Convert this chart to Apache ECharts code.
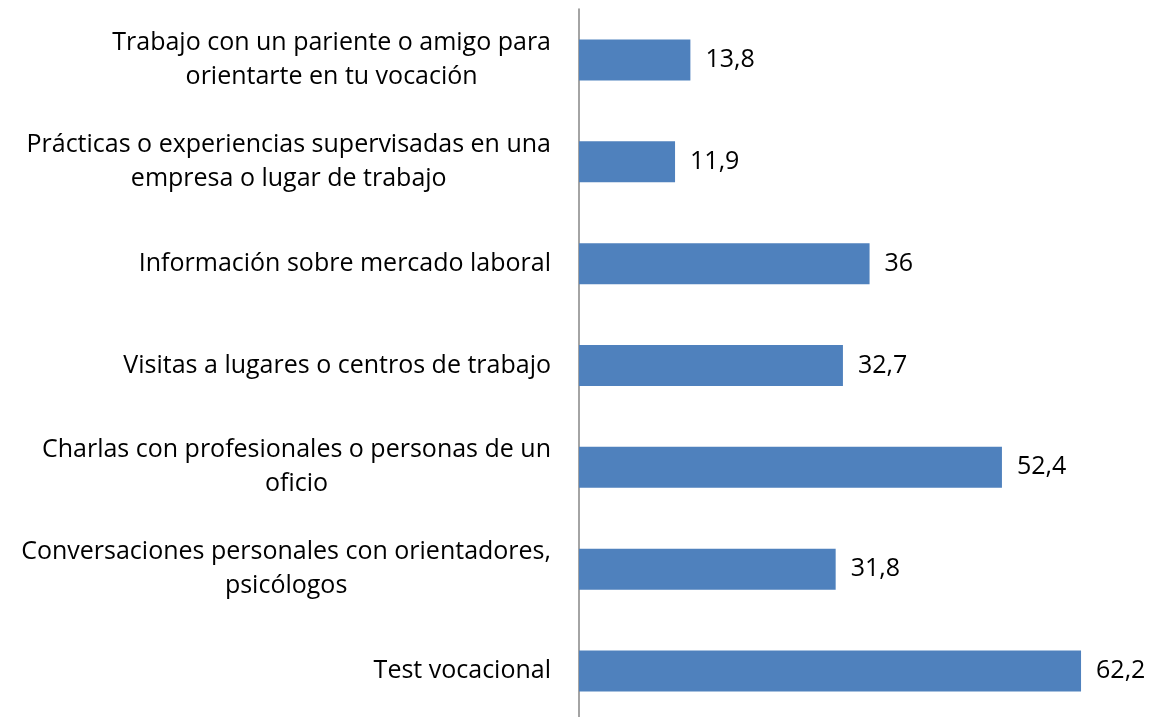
<!DOCTYPE html>
<html>
<head>
<meta charset="utf-8">
<script src="https://cdn.jsdelivr.net/npm/echarts@6/dist/echarts.min.js"></script>
<style>
	html, body { margin: 0; padding: 0; background: #fff; }
	#main { width: 1155px; height: 717px; }
</style>
</head>
<body>
<div id="main"></div>
<script>
/*categorias (de abajo hacia arriba)*/
var categorias = [
	'Test vocacional',
	'Conversaciones personales con orientadores,\npsicólogos',
	'Charlas con profesionales o personas de un\noficio',
	'Visitas a lugares o centros de trabajo',
	'Información sobre mercado laboral',
	'Prácticas o experiencias supervisadas en una\nempresa o lugar de trabajo',
	'Trabajo con un pariente o amigo para\norientarte en tu vocación'
];

var valores = [62.2, 31.8, 52.4, 32.7, 36, 11.9, 13.8];

/*estilo de texto*/
var text_style = {
	color: '#000',
	fontFamily: 'Open Sans',
	fontSize: 25,
	lineHeight: 34
};

var chart = echarts.init(document.getElementById('main'));

chart.setOption({
	animation: false,
	grid: {
		left: 579,
		right: 11,
		top: 9,
		height: 713,
		outerBoundsMode: 'none',
		containLabel: false
	},
	xAxis: {
		type: 'value',
		min: 0,
		max: 70,
		show: false
	},
	yAxis: {
		type: 'category',
		data: categorias,
		axisLine: {
			show: true,
			lineStyle: { color: '#868686', width: 1.5 }
		},
		axisTick: { show: false },
		axisLabel: {
			margin: 28,
			align: 'right',
			formatter: function (v) {
				return v.split('\n').map(function (s) { return '{c|' + s + '}'; }).join('\n');
			},
			rich: {
				c: Object.assign({ align: 'center' }, text_style)
			}
		}
	},
	series: [{
		type: 'bar',
		data: valores,
		barWidth: 41,
		itemStyle: { color: '#4F81BD' },
		label: Object.assign({
			show: true,
			position: 'right',
			distance: 15,
			formatter: function (p) {
				return String(p.value).replace('.', ',');
			}
		}, text_style)
	}]
});
</script>
</body>
</html>
